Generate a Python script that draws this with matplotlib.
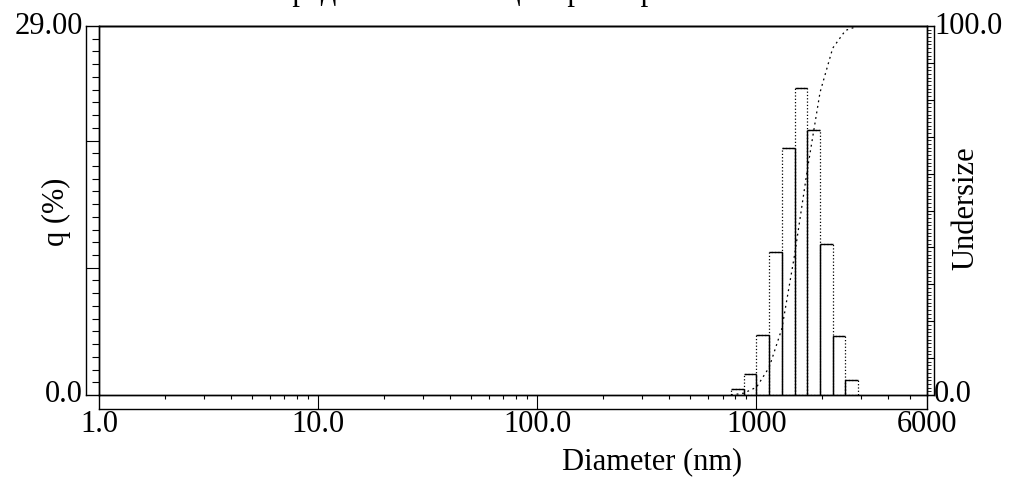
import numpy as np
import matplotlib
matplotlib.use("Agg")
import matplotlib.pyplot as plt
from matplotlib.lines import Line2D
from matplotlib.transforms import blended_transform_factory

# size distribution
bin_edges_nm = [765, 875, 1000, 1143, 1306, 1493, 1706, 1950, 2228, 2547, 2911]
q_pct = [0.47, 1.65, 4.7, 11.2, 19.4, 24.1, 20.8, 11.9, 4.6, 1.2]
undersize_pct = [0, 0.5, 2.1, 7.5, 18, 38, 61, 82, 94, 98.8, 100]

xtick_vals = [1, 10, 100, 1000, 6000]
xtick_labels = ["1.0", "10.0", "100.0", "1000", "6000"]
q_range = [0, 29]
q_labels = ["0.0", "29.00"]
und_range = [0, 100]
und_labels = ["0.0", "100.0"]

plt.rcParams['font.family'] = ['Liberation Serif', 'DejaVu Serif']
FS = 22

W, H = 1015, 479
fig = plt.figure(figsize=(W / 100, H / 100), dpi=100)

# plot box in pixels
L, R, T, B = 99, 927, 26, 395
aw, ah = R - L, B - T
ax = fig.add_axes([L / W, 1 - B / H, aw / W, ah / H])
ax.set_xscale('log')
ax.set_xlim(xtick_vals[0], xtick_vals[-1])
ax.set_ylim(*q_range)
ax2 = ax.twinx()
ax2.set_ylim(*und_range)

for a in (ax, ax2):
    for s in a.spines.values():
        s.set_linewidth(1.0)
        s.set_color('black')

px = 0.72  # points per pixel
ax.set_yticks([10, 20])
ax.set_yticks(np.arange(1, 29), minor=True)
ax.tick_params(axis='y', which='major', direction='out', length=13 * px, width=0.8, labelleft=False)
ax.tick_params(axis='y', which='minor', direction='out', length=7 * px, width=0.8)
ax.set_xticks([10, 100, 1000])
ax.set_xticks([m * 10 ** d for d in range(0, 4) for m in range(2, 10) if m * 10 ** d < 6000], minor=True)
ax.tick_params(axis='x', which='major', direction='out', length=14 * px, width=0.8, labelbottom=False)
ax.tick_params(axis='x', which='minor', direction='out', length=4 * px, width=0.8)
ax.xaxis.set_minor_formatter(plt.NullFormatter())

ax2.set_yticks(np.arange(0, 101, 10))
ax2.set_yticks(np.arange(0, 101, 1), minor=True)
ax2.tick_params(axis='y', which='major', direction='out', length=7 * px, width=0.8, labelright=False)
ax2.tick_params(axis='y', which='minor', direction='out', length=4 * px, width=0.6)

# outer bands of the frame
def frame_line(xs, ys):
    ax.add_line(Line2D(xs, ys, transform=ax.transAxes, color='black', lw=1.0, clip_on=False))

lb, bb, rb = 13 / aw, 14 / ah, 7 / aw
frame_line([-lb, -lb], [0, 1])
frame_line([-lb, 0], [0, 0])
frame_line([-lb, 1 + rb], [1, 1])
frame_line([0, 1], [-bb, -bb])
frame_line([0, 0], [-bb, 0])
frame_line([1, 1], [-bb, 0])
frame_line([1 + rb, 1 + rb], [0, 1])
frame_line([1, 1 + rb], [0, 0])

# histogram bars
edges = np.array(bin_edges_nm, dtype=float)
q = np.array(q_pct)
ax.bar(edges[:-1], q, width=np.diff(edges), align='edge', fill=False,
       edgecolor='black', linestyle=':', linewidth=0.9)
ax.hlines(q, edges[:-1], edges[1:], color='black', lw=1.0)
ax.vlines(edges[1:-1], 0, np.minimum(q[:-1], q[1:]), color='black', lw=1.0)

# undersize curve
ax2.plot(bin_edges_nm, undersize_pct, color='black', lw=0.9, linestyle=(0, (1.5, 3)))

# tick labels
tx = blended_transform_factory(ax.transData, ax.transAxes)
for v, s in zip(xtick_vals, xtick_labels):
    ax.text(v, -29 / ah, s, transform=tx, ha='center', va='center', fontsize=FS)
ty = blended_transform_factory(ax.transAxes, ax.transData)
for v, s in zip(q_range, q_labels):
    ax.text(-16 / aw, v, s, transform=ty, ha='right', va='center', fontsize=FS)
ty2 = blended_transform_factory(ax2.transAxes, ax2.transData)
for v, s in zip(und_range, und_labels):
    ax2.text(1 + 7 / aw, v, s, transform=ty2, ha='left', va='center', fontsize=FS)

# axis titles
fig.text(56 / W, 1 - 212 / H, "q (%)", rotation=90, ha='center', va='center', fontsize=FS)
fig.text(966 / W, 1 - 208 / H, "Undersize", rotation=90, ha='center', va='center', fontsize=FS)
fig.text(652 / W, 1 - 462 / H, "Diameter (nm)", ha='center', va='center', fontsize=FS)

# heading that is cut off at the very top, as in the source image
fig.text(460 / W, 1.0, "Распределение частиц по размерам", ha='center', va='baseline', fontsize=FS)

fig.savefig("out.png", dpi=100)
